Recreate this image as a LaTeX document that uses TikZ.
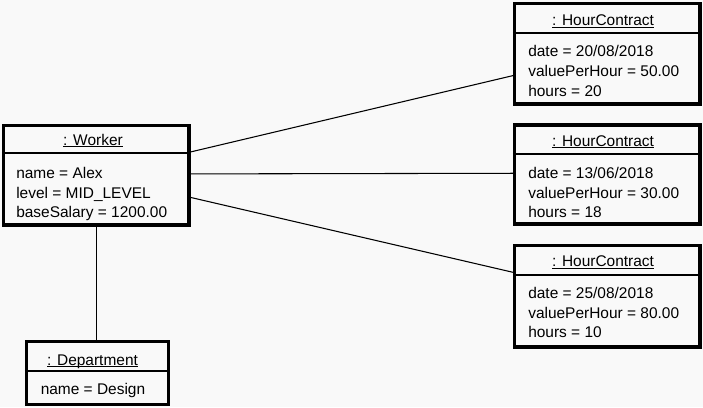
\documentclass[tikz,border=0pt]{standalone}
\usepackage{fontspec}
\setmainfont{Liberation Sans}
\usetikzlibrary{fit,calc}
\definecolor{paper}{RGB}{249,249,249}
% object name underlined just below the baseline (descenders cross the rule)
\newcommand\objname[1]{\setbox0\hbox{#1}\rlap{\rule[-1.7pt]{\wd0}{0.7pt}}\box0}
\begin{document}
\begin{tikzpicture}[x=0.75pt,y=-0.75pt,
  objbox/.style={draw=black,line width=2.3pt,inner sep=0pt,fill=paper},
  divider/.style={draw=black,line width=0.8pt},
  link/.style={draw=black,line width=0.8pt},
  title/.style={inner sep=0pt,anchor=base,font=\fontsize{11.6}{14}\selectfont},
  attr/.style={inner sep=0pt,anchor=base west,font=\fontsize{11.6}{14}\selectfont}]
% page
\fill[paper] (0,0) rectangle (703,407);
\useasboundingbox (0,0) rectangle (703,407);

% ---- Worker ----
\node[objbox,fit={(3.5,125.5) (189,225)}] (w) {};
\draw[divider] (w.west |- 0,153) -- (w.east |- 0,153);
\node[title] (wt) at (93,145) {\objname{: Worker}};
\node[attr] (wa1) at (16,178) {name = Alex};
\node[attr] (wa2) at (16,198) {level = MID\_LEVEL};
\node[attr] (wa3) at (16,217) {baseSalary = 1200.00};

% ---- HourContract 1 ----
\node[objbox,fit={(514.5,3.5) (700,104)}] (h1) {};
\draw[divider] (h1.west |- 0,33) -- (h1.east |- 0,33);
\node[title] (h1t) at (603,26) {\objname{: HourContract}};
\node[attr] (h1a1) at (528,56.5) {date = 20/08/2018};
\node[attr] (h1a2) at (528,76.5) {valuePerHour = 50.00};
\node[attr] (h1a3) at (528,96) {hours = 20};

% ---- HourContract 2 ----
\node[objbox,fit={(514.5,125) (700,224)}] (h2) {};
\draw[divider] (h2.west |- 0,154) -- (h2.east |- 0,154);
\node[title] (h2t) at (603,146) {\objname{: HourContract}};
\node[attr] (h2a1) at (528,178) {date = 13/06/2018};
\node[attr] (h2a2) at (528,198) {valuePerHour = 30.00};
\node[attr] (h2a3) at (528,217) {hours = 18};

% ---- HourContract 3 ----
\node[objbox,fit={(514.5,245.5) (700,347)}] (h3) {};
\draw[divider] (h3.west |- 0,275) -- (h3.east |- 0,275);
\node[title] (h3t) at (603,266.5) {\objname{: HourContract}};
\node[attr] (h3a1) at (528,298) {date = 25/08/2018};
\node[attr] (h3a2) at (528,318) {valuePerHour = 80.00};
\node[attr] (h3a3) at (528,337.5) {hours = 10};

% ---- Department ----
\node[objbox,fit={(26.5,341.5) (168.5,404.5)}] (d) {};
\draw[divider] (d.west |- 0,371) -- (d.east |- 0,371);
\node[title] (dt) at (92.5,365) {\objname{: Department}};
\node[attr] (da1) at (40.5,394) {name = Design};

% ---- links ----
\draw[link] ($(w.north east)!0.273!(w.south east)$) -- ($(h1.north west)!0.711!(h1.south west)$);
\draw[link] ($(w.north east)!0.487!(w.south east)$) -- ($(h2.north west)!0.488!(h2.south west)$);
\draw[link] ($(w.north east)!0.716!(w.south east)$) -- ($(h3.north west)!0.271!(h3.south west)$);
\draw[link] (w.south) -- (w.south |- d.north);
\end{tikzpicture}
\end{document}
